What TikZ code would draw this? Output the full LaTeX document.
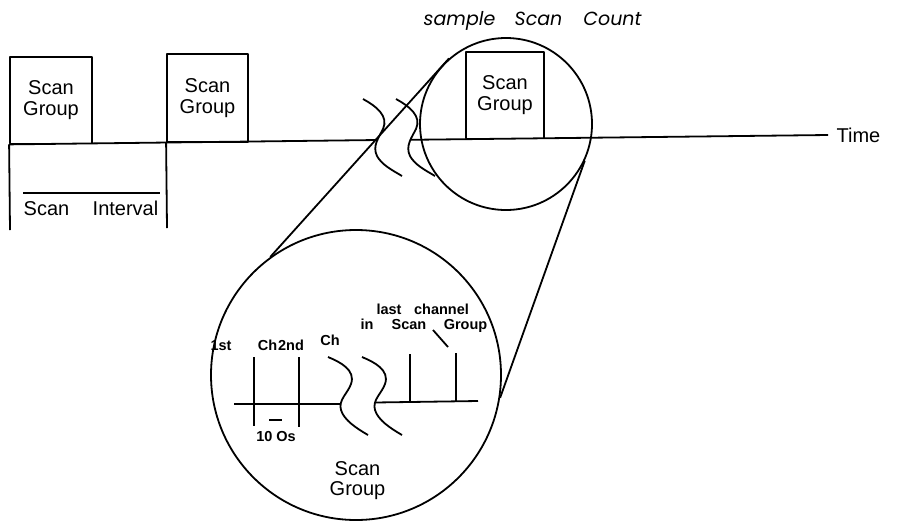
\documentclass[tikz,border=0pt]{standalone}
\usepackage{fontspec}
\setmainfont{Liberation Sans}
\newfontfamily\geofont{Poppins}
\begin{document}
\begin{tikzpicture}[x=1pt,y=-1pt,line width=1.8pt,line join=round,
  grp/.style={draw,rectangle,inner sep=0pt,align=center,font=\fontsize{20}{21}\selectfont},
  txt/.style={inner sep=0pt,anchor=base,font=\fontsize{20}{21}\selectfont},
  ital/.style={inner sep=0pt,anchor=base,font=\geofont\itshape\fontsize{19}{21}\selectfont},
  small/.style={inner sep=0pt,anchor=base,font=\bfseries\fontsize{14.5}{16}\selectfont},
  lens/.style={draw,circle,inner sep=0pt},
  biglbl/.style={inner sep=0pt,align=center,font=\fontsize{20}{20}\selectfont}]
\useasboundingbox (0,0) rectangle (899,520);

% scan group boxes
\node[grp,minimum width=82pt,minimum height=86.5pt] (g1) at (51,100.25) {Scan\\Group};
\node[grp,minimum width=81pt,minimum height=88pt] (g2) at (207.5,98) {Scan\\Group};
\node[grp,minimum width=78pt,minimum height=86.5pt] (g3) at (505,95.25) {Scan\\Group};

% time axis with break
\coordinate (s1m) at (378,140);
\coordinate (s2m) at (411,139.8);
\coordinate (tend) at (828,135);
\draw (g1.south west) -- (s1m);
\draw (s2m) -- (tend);
\node[txt] (time) at (858.5,142) {Time};

% break marks on the time axis
\draw (363,99) .. controls (376,106) and (389,116) .. (383,129)
      .. controls (379,137) and (372,146) .. (377,156)
      .. controls (382,165) and (392,170) .. (402,176);
\draw (396,99) .. controls (409,106) and (422,116) .. (416,129)
      .. controls (412,137) and (405,146) .. (410,156)
      .. controls (415,165) and (425,170) .. (435,176);

% scan interval
\coordinate (v1) at (10,230);
\coordinate (v2) at (167,228);
\draw (g1.south west) -- (v1);
\draw (g2.south west) -- (v2);
\coordinate (sia) at (23,193);
\coordinate (sib) at (160,193);
\draw (sia) -- (sib);
\node[txt] (siscan) at (46.5,215) {Scan};
\node[txt] (siint) at (125.5,215) {Interval};

% top label
\node[ital] (ls) at (459.5,25) {sample};
\node[ital] (lsc) at (538.5,25) {Scan};
\node[ital] (lc) at (612.5,25) {Count};

% magnifier
\node[lens,minimum size=172pt] (lensA) at (506,124) {};
\node[lens,minimum size=290pt] (lensB) at (356,375) {};
\draw (lensA.131) -- (lensB.126);
\draw (lensA.-25) -- (lensB.-9);

% inside the big lens
\coordinate (ia0) at (234,404);
\coordinate (iam) at (341,404);
\coordinate (ibm) at (375,402.5);
\coordinate (ia1) at (478,401);
\draw (ia0) -- (iam);
\draw (ibm) -- (ia1);
\draw (328,357) .. controls (340,362) and (356,370) .. (351,384)
      .. controls (348,393) and (338,400) .. (341,410)
      .. controls (344,420) and (356,428) .. (368,435);
\draw (362,357) .. controls (374,362) and (390,370) .. (385,384)
      .. controls (382,393) and (372,400) .. (375,410)
      .. controls (378,420) and (390,428) .. (402,435);

\coordinate (t1a) at (254,357); \coordinate (t1b) at (254,426);
\coordinate (t2a) at (299,357); \coordinate (t2b) at (299,427);
\coordinate (t3a) at (410,354); \coordinate (t3b) at (410,402);
\coordinate (t4a) at (456,353); \coordinate (t4b) at (456,401);
\draw (t1a) -- (t1b);
\draw (t2a) -- (t2b);
\draw (t3a) -- (t3b);
\draw (t4a) -- (t4b);
\coordinate (lda) at (433,330); \coordinate (ldb) at (448,347);
\draw (lda) -- (ldb);
\coordinate (bra) at (269,420); \coordinate (brb) at (282,420);
\draw (bra) -- (brb);

\node[small] (l1st) at (221,350) {1st};
\node[small] (lch1) at (267.5,350) {Ch};
\node[small] (l2nd) at (291,350) {2nd};
\node[small] (lch2) at (330,345) {Ch};
\node[small] (llast) at (389,314) {last};
\node[small] (lchan) at (441.5,314) {channel};
\node[small] (lin) at (367,329) {in};
\node[small] (lscan) at (409,329) {Scan};
\node[small] (lgrp) at (465.5,329) {Group};
\node[small] (l10) at (276,441) {10 Os};
\node[biglbl] (bigg) at (357.5,481) {Scan\\Group};
\end{tikzpicture}
\end{document}
